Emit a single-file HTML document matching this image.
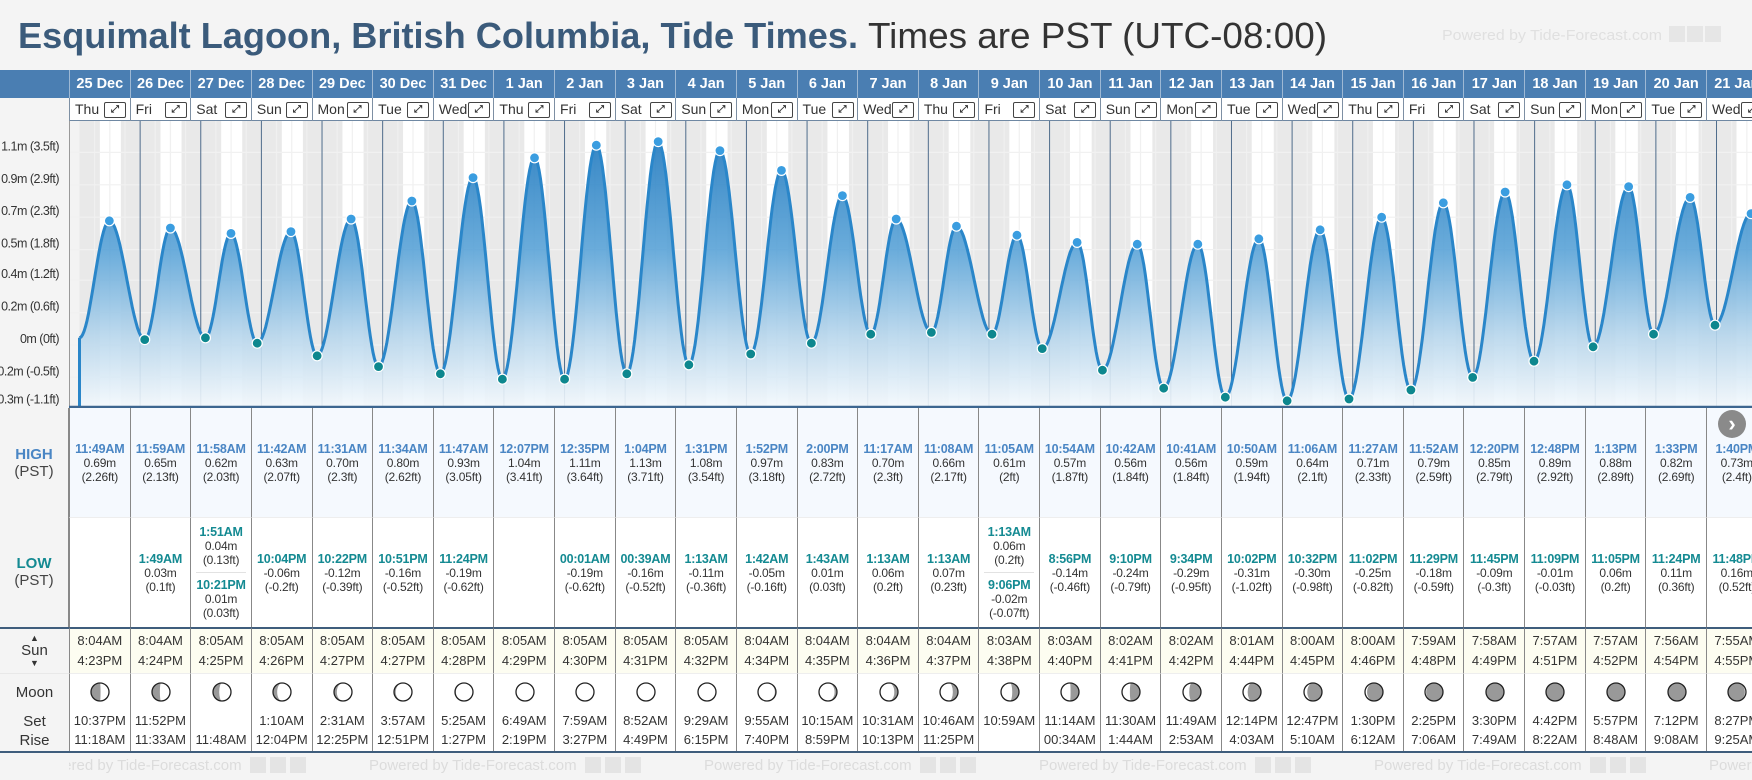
<!DOCTYPE html>
<html><head><meta charset="utf-8">
<style>
*{margin:0;padding:0;box-sizing:border-box}
body{width:1752px;height:780px;overflow:hidden;background:#f4f4f4;font-family:"Liberation Sans",sans-serif;position:relative;color:#333}
.abs{position:absolute}
.cell{position:absolute;display:flex;flex-direction:column;align-items:center;justify-content:center;text-align:center;white-space:nowrap}
.t{font-weight:bold;font-size:12.5px;line-height:14px;letter-spacing:-0.2px}
.v{font-size:12px;line-height:14px;letter-spacing:-0.2px}
.hi{color:#4a86c4}.lo{color:#148a92}
.sep{width:50px;border-top:1px solid #e2e2e2;margin:5px 0}
.st{font-size:13px;line-height:20px}
.wm{font-size:15px;color:#dcdcdc;white-space:nowrap}
</style></head><body>
<svg class="abs" style="left:0;top:0" width="1752" height="70">
  <text x="18" y="48" font-size="36" font-weight="bold" fill="#3b5b7b" textLength="840" lengthAdjust="spacingAndGlyphs">Esquimalt Lagoon, British Columbia, Tide Times.</text>
  <text x="868" y="48" font-size="36" fill="#333" textLength="459" lengthAdjust="spacingAndGlyphs">Times are PST (UTC-08:00)</text>
  <text x="1442" y="40" font-size="15" fill="#e0e0e0" textLength="220" lengthAdjust="spacingAndGlyphs">Powered by Tide-Forecast.com</text>
  <rect x="1669" y="26" width="16" height="16" fill="#e6e6e6"/><rect x="1687" y="26" width="16" height="16" fill="#e6e6e6"/><rect x="1705" y="26" width="16" height="16" fill="#e6e6e6"/>
</svg>
<div id="root"></div>
<script>
const dates=["25 Dec","26 Dec","27 Dec","28 Dec","29 Dec","30 Dec","31 Dec","1 Jan","2 Jan","3 Jan","4 Jan","5 Jan","6 Jan","7 Jan","8 Jan","9 Jan","10 Jan","11 Jan","12 Jan","13 Jan","14 Jan","15 Jan","16 Jan","17 Jan","18 Jan","19 Jan","20 Jan","21 Jan"];
const dows=["Thu","Fri","Sat","Sun","Mon","Tue","Wed","Thu","Fri","Sat","Sun","Mon","Tue","Wed","Thu","Fri","Sat","Sun","Mon","Tue","Wed","Thu","Fri","Sat","Sun","Mon","Tue","Wed"];
const highTimes=["11:49AM","11:59AM","11:58AM","11:42AM","11:31AM","11:34AM","11:47AM","12:07PM","12:35PM","1:04PM","1:31PM","1:52PM","2:00PM","11:17AM","11:08AM","11:05AM","10:54AM","10:42AM","10:41AM","10:50AM","11:06AM","11:27AM","11:52AM","12:20PM","12:48PM","1:13PM","1:33PM","1:40PM"];
const highM=[0.69,0.65,0.62,0.63,0.70,0.80,0.93,1.04,1.11,1.13,1.08,0.97,0.83,0.70,0.66,0.61,0.57,0.56,0.56,0.59,0.64,0.71,0.79,0.85,0.89,0.88,0.82,0.73];
const highFt=["2.26","2.13","2.03","2.07","2.3","2.62","3.05","3.41","3.64","3.71","3.54","3.18","2.72","2.3","2.17","2","1.87","1.84","1.84","1.94","2.1","2.33","2.59","2.79","2.92","2.89","2.69","2.4"];
const lowTimes=[[],["1:49AM"],["1:51AM","10:21PM"],["10:04PM"],["10:22PM"],["10:51PM"],["11:24PM"],[],["00:01AM"],["00:39AM"],["1:13AM"],["1:42AM"],["1:43AM"],["1:13AM"],["1:13AM"],["1:13AM","9:06PM"],["8:56PM"],["9:10PM"],["9:34PM"],["10:02PM"],["10:32PM"],["11:02PM"],["11:29PM"],["11:45PM"],["11:09PM"],["11:05PM"],["11:24PM"],["11:48PM"]];
const lowM=[[],[0.03],[0.04,0.01],[-0.06],[-0.12],[-0.16],[-0.19],[],[-0.19],[-0.16],[-0.11],[-0.05],[0.01],[0.06],[0.07],[0.06,-0.02],[-0.14],[-0.24],[-0.29],[-0.31],[-0.30],[-0.25],[-0.18],[-0.09],[-0.01],[0.06],[0.11],[0.16]];
const lowFt=[[],["0.1"],["0.13","0.03"],["-0.2"],["-0.39"],["-0.52"],["-0.62"],[],["-0.62"],["-0.52"],["-0.36"],["-0.16"],["0.03"],["0.2"],["0.23"],["0.2","-0.07"],["-0.46"],["-0.79"],["-0.95"],["-1.02"],["-0.98"],["-0.82"],["-0.59"],["-0.3"],["-0.03"],["0.2"],["0.36"],["0.52"]];
const sunrise=["8:04AM","8:04AM","8:05AM","8:05AM","8:05AM","8:05AM","8:05AM","8:05AM","8:05AM","8:05AM","8:05AM","8:04AM","8:04AM","8:04AM","8:04AM","8:03AM","8:03AM","8:02AM","8:02AM","8:01AM","8:00AM","8:00AM","7:59AM","7:58AM","7:57AM","7:57AM","7:56AM","7:55AM"];
const sunset=["4:23PM","4:24PM","4:25PM","4:26PM","4:27PM","4:27PM","4:28PM","4:29PM","4:30PM","4:31PM","4:32PM","4:34PM","4:35PM","4:36PM","4:37PM","4:38PM","4:40PM","4:41PM","4:42PM","4:44PM","4:45PM","4:46PM","4:48PM","4:49PM","4:51PM","4:52PM","4:54PM","4:55PM"];
const moonSet=["10:37PM","11:52PM","","1:10AM","2:31AM","3:57AM","5:25AM","6:49AM","7:59AM","8:52AM","9:29AM","9:55AM","10:15AM","10:31AM","10:46AM","10:59AM","11:14AM","11:30AM","11:49AM","12:14PM","12:47PM","1:30PM","2:25PM","3:30PM","4:42PM","5:57PM","7:12PM","8:27PM"];
const moonRise=["11:18AM","11:33AM","11:48AM","12:04PM","12:25PM","12:51PM","1:27PM","2:19PM","3:27PM","4:49PM","6:15PM","7:40PM","8:59PM","10:13PM","11:25PM","","00:34AM","1:44AM","2:53AM","4:03AM","5:10AM","6:12AM","7:06AM","7:49AM","8:22AM","8:48AM","9:08AM","9:25AM"];
const moonPhase=[0.24,0.27,0.30,0.34,0.37,0.40,0.43,0.46,0.49,0.52,0.55,0.58,0.62,0.65,0.68,0.71,0.74,0.77,0.80,0.83,0.86,0.89,0.92,0.95,0.98,0.02,0.05,0.08];
const gridM=[1.25,1.07,0.89,0.71,0.53,0.36,0.18,0,-0.18,-0.335];
const gridLabels=["1.2m (4.1ft)","1.1m (3.5ft)","0.9m (2.9ft)","0.7m (2.3ft)","0.5m (1.8ft)","0.4m (1.2ft)","0.2m (0.6ft)","0m (0ft)","-0.2m (-0.5ft)","-0.3m (-1.1ft)"];
const startLevel=0.04;

const NS="http://www.w3.org/2000/svg";
const root=document.getElementById('root');
const COLW=60.63, C0=69;
const colX=i=>C0+i*COLW;
function pt(s){const m=s.match(/(\d+):(\d+)(AM|PM)/);let h=(+m[1])%12;if(m[3]==='PM')h+=12;return h+(+m[2])/60;}
function div(cls,l,t,w,h,style){const d=document.createElement('div');d.className=cls;d.style.cssText=`left:${l}px;top:${t}px;width:${w}px;height:${h}px;`+(style||'');root.appendChild(d);return d;}
function sv(tag,attrs,parent){const e=document.createElementNS(NS,tag);for(const k in attrs)e.setAttribute(k,attrs[k]);parent.appendChild(e);return e;}

let hb=div('abs',0,70,1752,28,'background:#4a7eb2;');


let dr=div('abs',0,98,1752,23,'background:#fff;border-bottom:1px solid #6f88a3;');


let dl=div('abs',0,98,69,23,'background:#f4f4f4;');


dates.forEach((d,i)=>{
  const x=colX(i);
  const c=div('cell',x,70,COLW,28,'border-left:1px solid #9db8d4;color:#fff;font-weight:bold;font-size:14.5px;');
  c.textContent=d;
  
  
  const w=div('abs',x,98,COLW,23,'border-left:1px solid #7d8fa3;font-size:14px;line-height:23px;padding-left:5px;white-space:nowrap;');
  w.textContent=dows[i];
  
  
  const b=div('abs',x+35,102,22,16,'border:1px solid #444;border-radius:2px;background:#fff;font-size:10px;line-height:14px;text-align:center;font-weight:bold;');
  b.textContent='⤢';
  
  
});

const svg=sv('svg',{width:1752,height:287,class:'abs',style:'left:0;top:121px'},root);


const Y=m=>224-180*m;
const X=t=>79.5+t*COLW/24;
const defs=sv('defs',{},svg);
const lg=sv('linearGradient',{id:'fg',x1:0,y1:0,x2:0,y2:287,gradientUnits:'userSpaceOnUse'},defs);
sv('stop',{offset:'0.05',"stop-color":'#1e78be'},lg);
sv('stop',{offset:'0.45',"stop-color":'#5aa3d7'},lg);
sv('stop',{offset:'0.75',"stop-color":'#b7d6ec'},lg);
sv('stop',{offset:'1',"stop-color":'#f4f9fd'},lg);
sv('rect',{x:0,y:0,width:69,height:287,fill:'#f4f4f4'},svg);
sv('rect',{x:69,y:0,width:10.5,height:287,fill:'#f3f3f3'},svg);
sv('rect',{x:79.5,y:0,width:1700,height:287,fill:'#e9e9e9'},svg);
dates.forEach((d,i)=>{
  const r=sv('rect',{x:X(i*24+pt(sunrise[i])),y:0,width:X(i*24+pt(sunset[i]))-X(i*24+pt(sunrise[i])),height:287,fill:'#fff'},svg);
  
  
});
for(let h=6;h<24*29;h+=6){ if(h%24) sv('line',{x1:X(h),x2:X(h),y1:0,y2:287,stroke:'#f0f0f0','stroke-width':1.2},svg); }
gridM.forEach(m=>sv('line',{x1:69,x2:1752,y1:Y(m),y2:Y(m),stroke:'#f1f1f1','stroke-width':1.2},svg));
for(let i=1;i<29;i++){const l=sv('line',{x1:X(i*24),x2:X(i*24),y1:0,y2:287,stroke:'#4f6c8b','stroke-width':1},svg);
  
  }
sv('line',{x1:69.5,x2:69.5,y1:0,y2:287,stroke:'#999','stroke-width':1},svg);
gridLabels.forEach((s,k)=>{const t=sv('text',{x:59,y:Y(gridM[k])-2,'text-anchor':'end','font-size':12.5,fill:'#333','letter-spacing':'-0.5'},svg);t.textContent=s;
  
  });
const ev=[];
dates.forEach((d,i)=>{
  ev.push({t:i*24+pt(highTimes[i]),v:highM[i],hi:true});
  lowTimes[i].forEach((s,k)=>ev.push({t:i*24+pt(s),v:lowM[i][k],hi:false}));
});
ev.sort((a,b)=>a.t-b.t);
const seq=[{t:0,v:startLevel}].concat(ev);
let pts=[];
for(let k=0;k<seq.length-1;k++){const a=seq[k],b=seq[k+1];
  for(let s=0;s<1;s+=0.05){const f=(1-Math.cos(Math.PI*s))/2;pts.push([X(a.t+(b.t-a.t)*s),Y(a.v+(b.v-a.v)*f)]);}}
const last=seq[seq.length-1];pts.push([X(last.t),Y(last.v)]);
const bottom=286;
let dA=`M${X(0)},${bottom} `+pts.map(p=>`L${p[0].toFixed(1)},${p[1].toFixed(1)}`).join(' ')+` L${pts[pts.length-1][0]},${bottom} Z`;
const area=sv('path',{d:dA,fill:'url(#fg)','fill-opacity':0.9},svg);


const line=sv('path',{d:'M'+pts.map(p=>p[0].toFixed(1)+','+p[1].toFixed(1)).join(' L'),fill:'none',stroke:'#2a86c9','stroke-width':3,'stroke-linejoin':'round'},svg);


sv('line',{x1:X(0),x2:X(0),y1:bottom,y2:Y(startLevel),stroke:'#2a86c9','stroke-width':3},svg);
ev.forEach(e=>{const c=sv('circle',{cx:X(e.t),cy:Y(e.v),r:5,fill:e.hi?'#3a9de0':'#0d878e',stroke:'#fff','stroke-width':1.2},svg);
  
  });
sv('line',{x1:69,x2:1752,y1:286,y2:286,stroke:'#3d6690','stroke-width':2.5},svg);

let hl=div('cell',0,408,69,109,'background:#f4f4f4;border-right:1px solid #888;');
hl.innerHTML='<div style="font-weight:bold;font-size:15px;color:#4a86c4;line-height:17px">HIGH</div><div style="font-size:15px;line-height:17px;color:#444">(PST)</div>';


let ll=div('cell',0,517,69,110,'background:#f4f4f4;border-right:1px solid #888;');
ll.innerHTML='<div style="font-weight:bold;font-size:15px;color:#148a92;line-height:17px">LOW</div><div style="font-size:15px;line-height:17px;color:#444">(PST)</div>';


let sl=div('cell',0,627,69,46,'background:#f4f4f4;border-top:2px solid #3f5d7c;');
sl.innerHTML='<div style="font-size:9px;line-height:9px">▲</div><div style="font-size:15px;line-height:16px">Sun</div><div style="font-size:9px;line-height:9px">▼</div>';


let ml=div('abs',0,673,69,79,'background:#f4f4f4;font-size:15px;text-align:center;border-top:1px solid #e8e8e8;');
ml.innerHTML='<div style="position:absolute;top:10px;width:69px">Moon</div><div style="position:absolute;top:39px;width:69px">Set</div><div style="position:absolute;top:58px;width:69px">Rise</div>';


let tb=div('abs',69,406,1683,2,'background:#3d6690;');



function moonSvg(p){
  const r=9,cx=11,cy=11,k=Math.cos(2*Math.PI*p),rx=Math.abs(k)*r;
  let d;
  if(p<=0.5){d=`M${cx},${cy-r} A${r},${r} 0 0 1 ${cx},${cy+r} A${rx},${r} 0 0 ${k>0?0:1} ${cx},${cy-r} Z`;}
  else{d=`M${cx},${cy-r} A${r},${r} 0 0 0 ${cx},${cy+r} A${rx},${r} 0 0 ${k>0?1:0} ${cx},${cy-r} Z`;}
  return `<svg width="22" height="22"><circle cx="${cx}" cy="${cy}" r="${r}" fill="#999"/><path d="${d}" fill="#fff"/><circle cx="${cx}" cy="${cy}" r="${r}" fill="none" stroke="#222" stroke-width="1.3"/></svg>`;
}
dates.forEach((d,i)=>{
  const x=colX(i);
  const h=div('cell',x,408,COLW,109,'background:#f5f9fe;border-left:1px solid #888;');
  h.innerHTML=`<div class="t hi">${highTimes[i]}</div><div class="v">${highM[i].toFixed(2)}m</div><div class="v">(${highFt[i]}ft)</div>`;
  
  
  const l=div('cell',x,517,COLW,110,'background:#fff;border-left:1px solid #888;border-top:1px solid #eee;');
  l.innerHTML=lowTimes[i].map((s,k)=>`<div class="t lo">${s}</div><div class="v">${lowM[i][k].toFixed(2)}m</div><div class="v">(${lowFt[i][k]}ft)</div>`).join('<div class="sep"></div>');
  
  
  const s=div('cell',x,627,COLW,46,'background:#fdfdf1;border-left:1px solid #888;border-top:2px solid #3f5d7c;');
  s.innerHTML=`<div class="st">${sunrise[i]}</div><div class="st">${sunset[i]}</div>`;
  
  
  const m=div('abs',x,673,COLW,79,'background:#fff;border-left:1px solid #888;border-top:1px solid #eee;font-size:13px;text-align:center;');
  m.innerHTML=`<div style="position:absolute;left:${COLW/2-11}px;top:7px">${moonSvg(moonPhase[i])}</div><div style="position:absolute;top:39px;width:100%">${moonSet[i]}</div><div style="position:absolute;top:58px;width:100%">${moonRise[i]}</div>`;
  
  
});
let bb=div('abs',0,751,1752,2,'background:#3f5d7c;');


let ft=div('abs',69,753,1683,27,'background:#f4f4f4;overflow:hidden;');


for(let k=0;k<6;k++){
  const w=document.createElement('div');w.className='wm';
  w.style.cssText=`position:absolute;left:${-35+k*335}px;top:4px;`;
  w.innerHTML='Powered by Tide-Forecast.com <span style="display:inline-block;width:16px;height:16px;background:#e4e4e4;vertical-align:-3px;margin-left:4px"></span> <span style="display:inline-block;width:16px;height:16px;background:#e4e4e4;vertical-align:-3px"></span> <span style="display:inline-block;width:16px;height:16px;background:#e4e4e4;vertical-align:-3px"></span>';
  ft.appendChild(w);
}
let nb=div('cell',1718,410,28,28,'border-radius:50%;background:#8a8a8a;color:#fff;font-size:22px;font-weight:bold;line-height:28px;');
nb.textContent='›';


</script>
</body></html>
